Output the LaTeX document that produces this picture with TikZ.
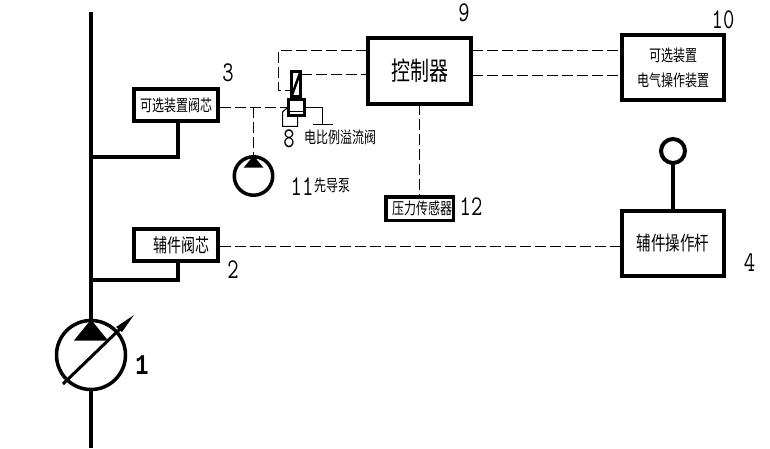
\documentclass[tikz,border=0pt]{standalone}
\usepackage{fontspec}
\setmainfont{Noto Sans CJK SC}
\newfontfamily\boldnum{Liberation Mono}
\usetikzlibrary{calc}
\newcommand{\tallcn}[1]{\scalebox{1}[1.35]{#1}}
\newcommand{\tallnum}[1]{\scalebox{1}[1.3]{#1}}
\tikzset{
  thickbox/.style={draw,line width=4pt,inner sep=0pt,outer sep=0pt,align=center,font=\fontsize{#1}{25}\selectfont},
  thickbox/.default=12,
  roundsym/.style={draw,circle,inner sep=0pt,outer sep=0pt},
  oilline/.style={line width=4pt},
  ctrlline/.style={line width=1pt,dash pattern=on 11pt off 4pt},
  thinline/.style={line width=1pt},
  numlabel/.style={inner sep=0pt,font=\ttfamily\fontsize{22}{22}\selectfont},
  textlabel/.style={inner sep=0pt,font=\fontsize{12}{12}\selectfont}
}
\begin{document}
\begin{tikzpicture}[x=1pt,y=-1pt]
\useasboundingbox (0,0) rectangle (770,449);

% pumps and boxes
\node[roundsym,line width=3.5pt,minimum size=69pt] (mainpump) at (91,355) {};
\node[roundsym,line width=3.5pt,minimum size=38.5pt] (pilotpump) at (253.5,176) {};
\node[thickbox,minimum width=84pt,minimum height=32pt] (optvalve) at (176,105) {\tallcn{可选装置阀芯}};
\node[thickbox=14,minimum width=84pt,minimum height=32pt] (auxvalve) at (176,245) {\hspace{11pt}\tallcn{辅件阀芯}};
\node[thickbox=19,minimum width=103pt,minimum height=66pt] (ctrl) at (419.5,71) {\tallcn{控制器}};
\node[thickbox,minimum width=102pt,minimum height=65pt] (optdevice) at (673,67.5) {\tallcn{可选装置}\\\tallcn{电气操作装置}};
\node[thickbox=14.5,minimum width=102pt,minimum height=65pt] (auxlever) at (673,243.5) {\tallcn{辅件操作杆}};
\node[thickbox=12,line width=3.5pt,minimum width=67.5pt,minimum height=23.5pt] (sensor) at (419.5,208.5) {\hspace{5pt}\tallcn{压力传感器}};
\node[roundsym,line width=4pt,minimum size=24pt] (knob) at (673,151) {};

% proportional valve
\node[draw,line width=3pt,minimum width=9pt,minimum height=25pt,inner sep=0pt,outer sep=0pt] (solenoid) at (296,84) {};
\node[draw,line width=3pt,minimum width=16pt,minimum height=16pt,inner sep=0pt,outer sep=0pt] (spool) at (296.5,107.5) {};
\draw[line width=2.5pt] (solenoid.south west) -- (solenoid.north east);
\draw[thinline] (spool.west |- 0,111.5) -- (spool.east |- 0,111.5);

% main oil lines
\coordinate (top) at (91,12);
\coordinate (bottom) at (91,448);
\coordinate (tee3) at (91,157);
\coordinate (tee2) at (91,280);
\draw[oilline] (top) -- (mainpump.north);
\draw[oilline] (mainpump.south) -- (bottom);
\draw[oilline] (tee3) -| (optvalve.south -| 178,0);
\draw[oilline] (tee2) -| (auxvalve.south -| 178,0);
\draw[oilline] (knob.south) -- (auxlever.north);

% pump triangles and arrow
\fill ($(mainpump.north)+(0,-1)$) -- ++(17,21) -- ++(-34,0) -- cycle;
\fill ($(pilotpump.north)+(0,-1)$) -- ++(10,12) -- ++(-20,0) -- cycle;
\coordinate (arrowfrom) at (63,384);
\coordinate (arrowto) at (134,315);
\draw[line width=3pt] (arrowfrom) -- (122,327);
\fill (arrowto) -- (116,327) -- (122,332) -- cycle;

% dashed lines
\coordinate (c1) at (367,50.5);
\coordinate (c2) at (367,74.5);
\coordinate (c3) at (472,50.5);
\coordinate (c4) at (472,75.5);
\coordinate (d1) at (621,50.5);
\coordinate (d2) at (621,75.5);
\coordinate (v1) at (220,107.5);
\coordinate (a1) at (220,246.5);
\coordinate (a2) at (621,246.5);
\coordinate (tank) at (322.5,124.5);
\draw[ctrlline] (c1) -| (278.5,90.5) -- (solenoid.west |- 0,90.5);
\draw[ctrlline] (solenoid.east |- c2) -- (c2);
\draw[ctrlline] (c3) -- (d1);
\draw[ctrlline] (c4) -- (d2);
\draw[ctrlline] (ctrl.south) -- (ctrl.south |- sensor.north);
\draw[ctrlline] (v1) -- (spool.west |- v1);
\draw[ctrlline] (253.5,107.5) -- (pilotpump.north);
\draw[ctrlline] (a1) -- (a2);
\draw[thinline] (spool.east |- v1) -- (322.5,107.5) -- (tank);
\draw[thinline] ($(tank)+(-10,0)$) -- ($(tank)+(10,0)$);
\draw[thinline] (287,108) -- (282.5,112) -- (282.5,126.5) -- (297.5,126.5) -- (297.5,117);

% numbers and labels
\node[numlabel] (n3) at (228,73) {\tallnum{3}};
\node[numlabel] (n9) at (464,13) {\tallnum{9}};
\node[numlabel] (n10) at (723,20) {\tallnum{10}};
\node[numlabel] (n8) at (289,139) {\tallnum{8}};
\node[numlabel] (n2) at (233,270) {\tallnum{2}};
\node[numlabel] (n4) at (749.5,263) {\tallnum{4}};
\node[numlabel] (n11) at (302,187) {\tallnum{11}};
\node[numlabel] (n12) at (471,207) {\tallnum{12}};
\node[inner sep=0pt,font=\boldnum\bfseries\fontsize{22}{22}\selectfont] (n1) at (142,365) {\tallnum{1}};
\node[textlabel] (lbvalve) at (340,137) {\tallcn{电比例溢流阀}};
\node[textlabel] (lbpump) at (332,185) {\tallcn{先导泵}};
\end{tikzpicture}
\end{document}
